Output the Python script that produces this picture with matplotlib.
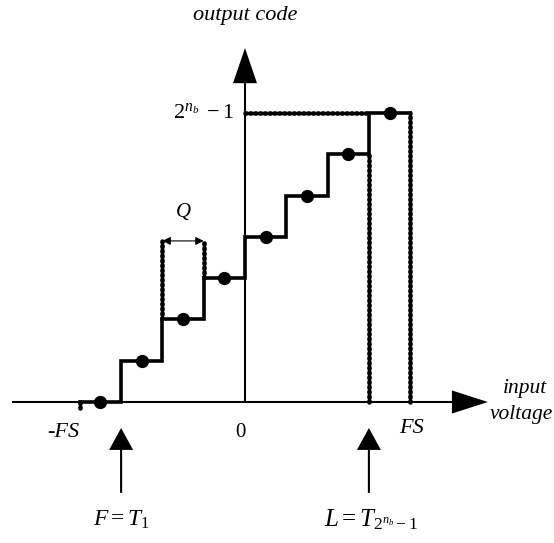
import numpy as np
import matplotlib
matplotlib.use("Agg")
import matplotlib.pyplot as plt

plt.rcParams['mathtext.fontset'] = 'custom'
plt.rcParams['mathtext.rm'] = 'Liberation Serif'
plt.rcParams['mathtext.it'] = 'Liberation Serif:italic'
plt.rcParams['font.family'] = ['Liberation Serif', 'DejaVu Serif']

# Data (x in units of Q, y in output code levels)
thresholds = [-3, -2, -1, 0, 1, 2, 3]      # transition levels T_1 .. T_7
codes = [0, 1, 2, 3, 4, 5, 6, 7]             # output codes, 2^nb - 1 = 7
full_scale = 4                               # FS = 4 Q
code_centers = [-3.5, -2.5, -1.5, -0.5, 0.5, 1.5, 2.5, 3.5]
q_top = 3.9                                  # height of the Q bracket

fig = plt.figure(figsize=(5.54, 5.43), dpi=100)
ax = fig.add_axes([0, 0, 1, 1])
Q = 41.3  # pixels per unit
ax.set_xlim(-245 / Q, (554 - 245) / Q)
ax.set_ylim(-(543 - 402) / Q, 402 / Q)
ax.axis('off')

# axes with arrows
ax.arrow(-5.64, 0, 5.88 + 5.64, 0, width=0.05, head_width=0.56, head_length=0.87,
         length_includes_head=True, color='black', lw=0)
ax.arrow(0, 0, 0, 8.57, width=0.05, head_width=0.58, head_length=0.85,
         length_includes_head=True, color='black', lw=0)

# transfer staircase
xs = [-full_scale] + thresholds + [full_scale]
ys = codes + [codes[-1]]
ax.step(xs, ys, where='post', color='black', lw=2.6, solid_joinstyle='miter', zorder=3)
ax.plot(code_centers, codes, 'o', color='black', ms=8.5, zorder=4)

dot = dict(color='black', lw=3.3, linestyle=(0, (0.3, 0.75)), dash_capstyle='round', zorder=2)
# dotted guides
ax.plot([0, thresholds[-1]], [codes[-1], codes[-1]], **dot)
ax.plot([thresholds[-1], thresholds[-1]], [0, codes[-2]], **dot)
ax.plot([full_scale, full_scale], [0, codes[-1]], **dot)
ax.plot([-full_scale, -full_scale], [0, -0.15], **dot)
ax.plot([thresholds[1], thresholds[1]], [codes[2], q_top], **dot)
ax.plot([thresholds[2], thresholds[2]], [codes[3], q_top], **dot)

# Q bracket
ax.annotate('', xy=(thresholds[1], q_top), xytext=(thresholds[2], q_top),
            arrowprops=dict(arrowstyle='<|-|>', color='black', lw=0.8,
                            shrinkA=0, shrinkB=0, mutation_scale=12))
ax.text(-1.5, 4.6, 'Q', fontsize=15, style='italic', ha='center', va='center')

# bottom arrows
for t in [thresholds[0], thresholds[-1]]:
    ax.arrow(t, -2.2, 0, 2.2 - 0.63, width=0.05, head_width=0.58, head_length=0.53,
             length_includes_head=True, color='black', lw=0)

# labels
ax.text(0, 9.35, 'output code', fontsize=16, style='italic', ha='center', va='center')
ax.text(-0.25, 7.0, r'$2^{n_b}\ -1$', fontsize=16, ha='right', va='center')
ax.text(6.78, 0.33, 'input', fontsize=15.5, style='italic', ha='center', va='center')
ax.text(7.45, -0.3, 'voltage', fontsize=15.5, style='italic', ha='right', va='center')
ax.text(-4.4, -0.73, '-FS', fontsize=16, style='italic', ha='center', va='center')
ax.text(-0.12, -0.73, '0', fontsize=15, ha='center', va='center')
ax.text(4.04, -0.65, 'FS', fontsize=16, style='italic', ha='center', va='center')
ax.text(-3.0, -2.85, r'$F = T_1$', fontsize=17, ha='center', va='center')
ax.text(3.05, -2.85, r'$L = T_{2^{n_b}-1}$', fontsize=18, ha='center', va='center')

fig.savefig('out.png', dpi=100)
